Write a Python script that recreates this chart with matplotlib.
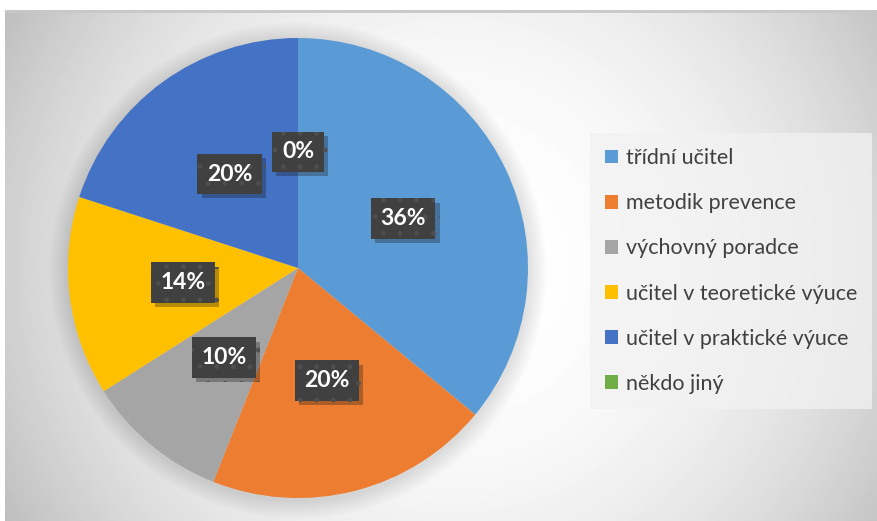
import numpy as np
import matplotlib
matplotlib.use("Agg")
import matplotlib.pyplot as plt
from matplotlib import patheffects
from matplotlib.patches import Circle

plt.rcParams['font.family'] = ['Lato', 'DejaVu Sans']
plt.rcParams['hatch.linewidth'] = 1.0

categories = ["třídní učitel", "metodik prevence", "výchovný poradce",
              "učitel v teoretické výuce", "učitel v praktické výuce", "někdo jiný"]
counts = [18, 10, 5, 7, 10, 0]
colors = ["#5B9BD5", "#ED7D31", "#A5A5A5", "#FFC000", "#4472C4", "#70AD47"]

W, H = 877, 521
fig = plt.figure(figsize=(W / 100, H / 100), dpi=100)
fig.patch.set_facecolor("white")

# background with radial gradient
bg = fig.add_axes([5 / W, 0, (W - 5) / W, (H - 10) / H])
yy, xx = np.mgrid[0:H - 10, 0:W - 5]
d = np.hypot(xx - 450, yy - 255)
shade = np.clip(1 - 0.25 * (d / 513) ** 2.3, 0.72, 1.0)
bg.imshow(shade, cmap="gray", vmin=0, vmax=1, aspect="auto", interpolation="bilinear")
bg.set_xticks([])
bg.set_yticks([])
for s in bg.spines.values():
    s.set_visible(False)
bg.axhline(0, color="#c8c8c8", lw=2)

# pie
cx, cy, r = 298, 268, 230
ax = fig.add_axes([(cx - r) / W, (H - cy - r) / H, 2 * r / W, 2 * r / H])
ax.patch.set_alpha(0)
# soft halo around the pie
for k in range(10):
    ax.add_patch(Circle((0, -0.01), 1.0 + 0.008 * (k + 1), color="black",
                        alpha=0.012, lw=0, zorder=0, clip_on=False))

wedges, _, autotexts = ax.pie(
    counts, colors=colors, startangle=90, counterclock=False, radius=1.0,
    autopct=lambda p: f"{p:.0f}%", pctdistance=0.505,
    wedgeprops=dict(linewidth=0),
    textprops=dict(color="white", fontsize=16.5, fontweight="bold"))
ax.set_xlim(-1.0, 1.0)
ax.set_ylim(-1.0, 1.0)

for t in autotexts:
    t.set_bbox(dict(boxstyle="square,pad=0.42", facecolor="#404040",
                    edgecolor="#4f4f4f", hatch=".", linewidth=0))
    t.get_bbox_patch().set_path_effects(
        [patheffects.withSimplePatchShadow(offset=(3, -3), alpha=0.3),
         patheffects.Normal()])

leg = ax.legend(wedges, categories, loc="upper left",
                bbox_to_anchor=(590 / W, 1 - 133 / H), bbox_transform=fig.transFigure,
                fontsize=15.5, frameon=True, fancybox=False, labelspacing=1.17,
                handlelength=0.62, handleheight=0.62, handletextpad=0.35,
                borderpad=0.7, borderaxespad=0, labelcolor="#404040")
leg.get_frame().set_facecolor("#f2f2f2")
leg.get_frame().set_alpha(0.75)
leg.get_frame().set_linewidth(0)

fig.savefig("out.png", dpi=100)
